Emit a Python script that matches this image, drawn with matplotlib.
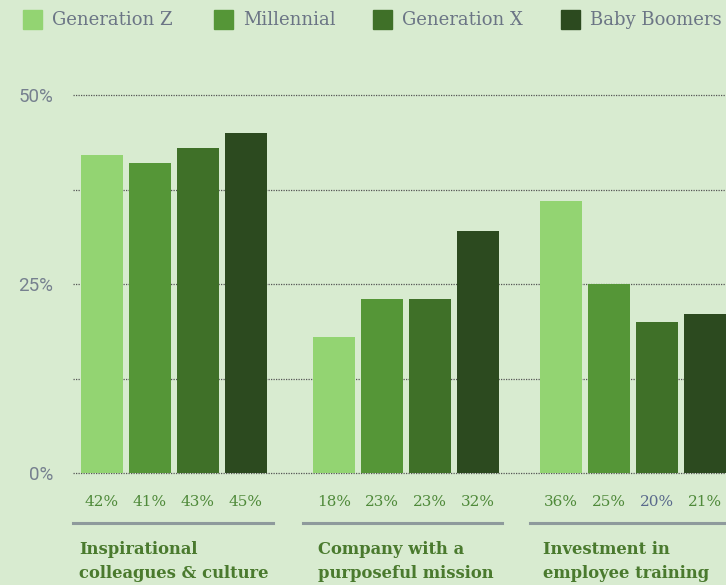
import matplotlib.pyplot as plt
from matplotlib.patches import Rectangle

groups = ["Inspirational\ncolleagues & culture", "Company with a\npurposeful mission", "Investment in\nemployee training"]
series = ["Generation Z", "Millennial", "Generation X", "Baby Boomers"]
gen_z = [42, 18, 36]
millennial = [41, 23, 25]
gen_x = [43, 23, 20]
boomers = [45, 32, 21]
yticks = [0, 25, 50]

values = [gen_z, millennial, gen_x, boomers]
colors = ["#93d472", "#559637", "#3f7028", "#2c4a1f"]
bg = "#d8ebd0"
label_green = "#4f8a3a"
title_green = "#4a7a2e"
gray_text = "#6b7585"

W, H = 726, 585
fig = plt.figure(figsize=(W / 100, H / 100), dpi=100, facecolor=bg)
ax = fig.add_axes([73 / W, 1 - 473 / H, 1 - 73 / W, (473 - 95) / H])
ax.set_facecolor(bg)

group_pos = [0, 4.83, 9.56]
for i, (vals, col) in enumerate(zip(values, colors)):
    xs = [g + i for g in group_pos]
    ax.bar(xs, vals, width=0.875, color=col, zorder=3)
    for x, v in zip(xs, vals):
        c = "#5a6a8c" if (v == 20 and i == 2) else label_green
        ax.text(x, -0.077, f"{v}%", transform=ax.get_xaxis_transform(),
                ha="center", va="center", fontsize=11, color=c,
                family="DejaVu Serif", clip_on=False)

ax.set_xlim(-0.6, 13.0)
ax.set_ylim(0, 50)
for y in [0, 12.5, 25, 37.5, 50]:
    ax.axhline(y, color="#555555", lw=0.9, ls=(0, (1, 1)), zorder=1, clip_on=False)

ax.set_yticks(yticks)
ax.set_yticklabels([f"{t}%" for t in yticks], family="Roboto",
                   fontsize=13.5, color="#76808f")
ax.tick_params(axis="y", length=0, pad=14)
ax.set_xticks([])
for s in ax.spines.values():
    s.set_visible(False)

# group underline and titles
line_spans = [(73, 273), (303, 502), (530, 726)]
title_x = [79, 318, 543]
for (x0, x1), tx, name in zip(line_spans, title_x, groups):
    fig.add_artist(plt.Line2D([x0 / W, x1 / W], [1 - 523 / H] * 2, color="#8e9a9c", lw=2.2))
    fig.text(tx / W, 1 - 541 / H, name, ha="left", va="top", fontsize=11.8,
             fontweight="bold", color=title_green, family="DejaVu Serif", linespacing=1.5)

# legend
sq_x = [23, 214, 373, 561]
for sx, name, col in zip(sq_x, series, colors):
    fig.add_artist(Rectangle((sx / W, 1 - 29 / H), 19 / W, 19 / H, color=col, transform=fig.transFigure))
    fig.text((sx + 29) / W, 1 - 20 / H, name, ha="left", va="center", fontsize=13,
             color=gray_text, family="DejaVu Serif")

fig.savefig("out.png", dpi=100, facecolor=bg)
